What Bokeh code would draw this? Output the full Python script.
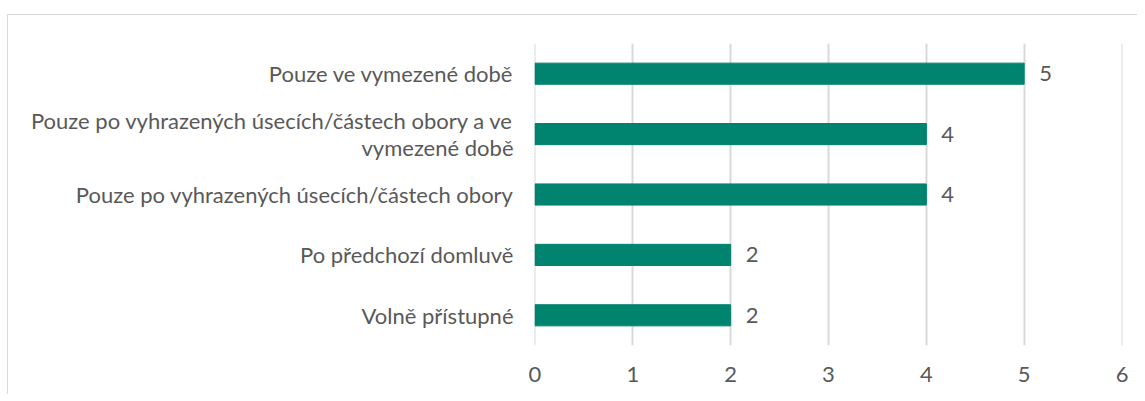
from bokeh.plotting import figure
from bokeh.models import Range1d, FactorRange, ColumnDataSource, LabelSet, FixedTicker
from bokeh.core.properties import value
from bokeh.embed import file_html
from bokeh.resources import INLINE

categories = [
    "Volně přístupné",
    "Po předchozí domluvě",
    "Pouze po vyhrazených úsecích/částech obory",
    "Pouze po vyhrazených úsecích/částech obory a ve\nvymezené době",
    "Pouze ve vymezené době",
]
values = [2, 2, 4, 4, 5]
x_ticks = [0, 1, 2, 3, 4, 5, 6]

FONT = "Lato"
FS = "22px"
TXT = "#595959"
BAR = "#00836F"
GRID = "#d9d9d9"

src = ColumnDataSource(dict(cat=categories, val=values, lbl=[str(v) for v in values]))

p = figure(
    width=1130, height=380,
    y_range=FactorRange(factors=categories),
    x_range=Range1d(-0.005, 6.005),
    output_backend="svg", toolbar_location=None,
    min_border_left=526, min_border_right=16,
    min_border_top=28, min_border_bottom=50,
    styles={"border-top": "1px solid #d9d9d9", "border-left": "1px solid #d9d9d9",
            "margin-left": "7px", "margin-top": "14px"},
)
p.hbar(y="cat", right="val", left=0, height=0.35, source=src, color=BAR)

labels = LabelSet(x="val", y="cat", text="lbl", source=src, x_offset=15,
                  text_baseline="middle", text_font=value(FONT), text_font_size=value(FS),
                  text_color=TXT)
p.add_layout(labels)

p.outline_line_color = None
p.ygrid.grid_line_color = None
p.xgrid.grid_line_color = GRID
p.xgrid.grid_line_width = 2
p.xaxis.ticker = FixedTicker(ticks=x_ticks)

for ax in (p.xaxis, p.yaxis):
    ax.axis_line_color = None
    ax.major_tick_line_color = None
    ax.minor_tick_line_color = None
    ax.major_label_text_font = FONT
    ax.major_label_text_font_size = FS
    ax.major_label_text_color = TXT
p.yaxis.major_label_text_line_height = 1.0
p.yaxis.major_label_standoff = 15
p.xaxis.major_label_standoff = 15

open("out.html", "w").write(file_html(p, INLINE))
